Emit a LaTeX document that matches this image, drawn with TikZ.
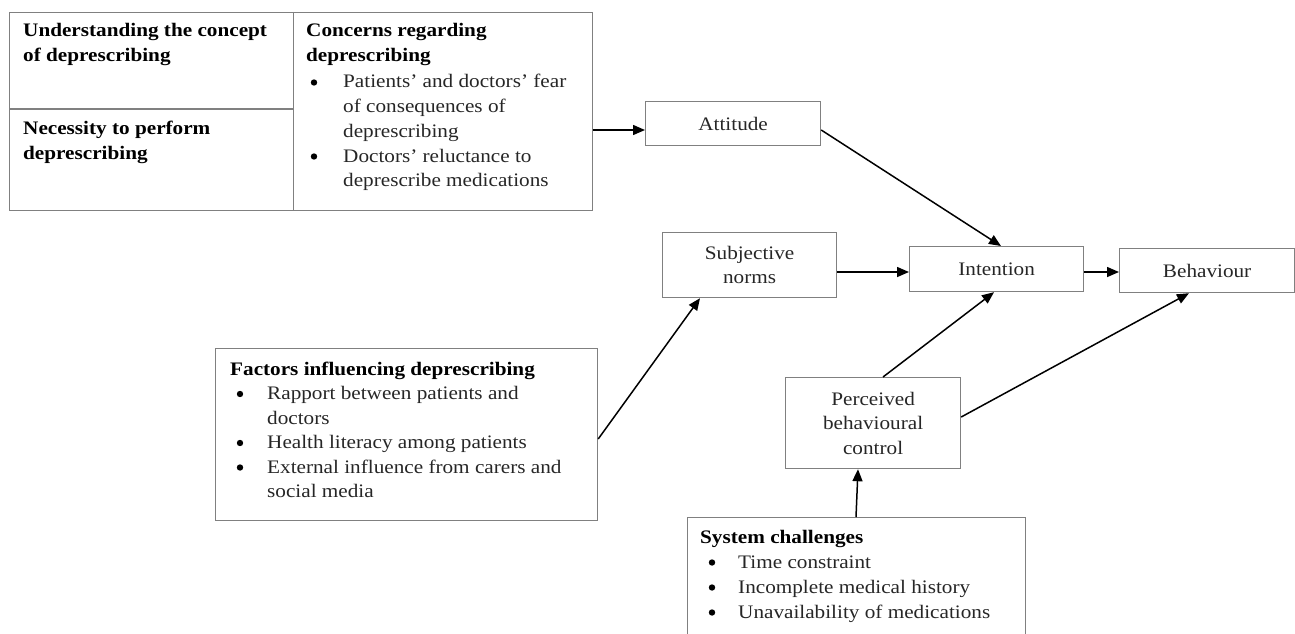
\documentclass[tikz,border=0pt]{standalone}
\usepackage{fontspec}
\setmainfont{Liberation Serif}[FakeStretch=1.11]
\usetikzlibrary{arrows.meta}
\newcommand\fsz{\fontsize{19.1}{24.5}\selectfont}
\tikzset{
  box/.style={draw=black!50, line width=1.2pt, inner sep=0pt, anchor=north west},
  divline/.style={draw=black!50, line width=1.2pt},
  txt/.style={inner sep=0pt, font=\fsz, text=black!85, anchor=base west},
  hd/.style={inner sep=0pt, font=\fsz\bfseries, text=black, anchor=base west},
  bul/.style={circle, fill=black, inner sep=0pt, minimum size=6.4pt},
  ctr/.style={inner sep=0pt, font=\fsz, text=black!85, align=center},
  arr/.style={line width=1.5pt, -{Triangle[length=12pt,width=10pt]}},
}
\begin{document}
\begin{tikzpicture}[x=1pt,y=-1pt]
\useasboundingbox (0,0) rectangle (1295,634);

% ---------- top left composite box ----------
\node[box, minimum width=583pt, minimum height=198pt] (top) at (9,12) {};
\draw[divline] (293.5,12) -- (293.5,210);
\draw[divline] (9,109) -- (293.5,109);
\node[hd] (u1) at (23,37) {Understanding the concept};
\node[hd] (u2) at (23,61.5) {of deprescribing};
\node[hd] (n1) at (23,134.5) {Necessity to perform};
\node[hd] (n2) at (23,159) {deprescribing};
\node[hd] (c1) at (306,37) {Concerns regarding};
\node[hd] (c2) at (306,62) {deprescribing};
\node[bul] (cb1) at (314,82.5) {};
\node[txt] (c3) at (343,88) {Patients’ and doctors’ fear};
\node[txt] (c4) at (343,112.5) {of consequences of};
\node[txt] (c5) at (343,137) {deprescribing};
\node[bul] (cb2) at (314,156.5) {};
\node[txt] (c6) at (343,162) {Doctors’ reluctance to};
\node[txt] (c7) at (343,186.5) {deprescribe medications};

% ---------- TPB boxes ----------
\node[box, minimum width=175pt, minimum height=44pt] (att) at (645,101) {};
\node[ctr] (attT) at (att.center) {Attitude};
\node[box, minimum width=174pt, minimum height=65pt] (sub) at (662,232) {};
\node[ctr] (subT) at (sub.center) {Subjective\\norms};
\node[box, minimum width=174pt, minimum height=45pt] (int) at (909,246) {};
\node[ctr] (intT) at (int.center) {Intention};
\node[box, minimum width=175pt, minimum height=44pt] (beh) at (1119,248) {};
\node[ctr] (behT) at (beh.center) {Behaviour};
\node[box, minimum width=175pt, minimum height=91pt] (pbc) at (785,377) {};
\node[ctr] (pbcT) at (pbc.center) {Perceived\\behavioural\\control};

% ---------- factors box ----------
\node[box, minimum width=382pt, minimum height=172pt] (fac) at (215,348) {};
\node[hd] (f0) at (230,375) {Factors influencing deprescribing};
\node[bul] (fb1) at (240,394) {};
\node[txt] (f1) at (267,399.5) {Rapport between patients and};
\node[txt] (f2) at (267,424) {doctors};
\node[bul] (fb2) at (240,443) {};
\node[txt] (f3) at (267,448.5) {Health literacy among patients};
\node[bul] (fb3) at (240,467.5) {};
\node[txt] (f4) at (267,473) {External influence from carers and};
\node[txt] (f5) at (267,497.5) {social media};

% ---------- system challenges box (cut off at bottom) ----------
\node[box, minimum width=338pt, minimum height=140pt] (sys) at (687,517) {};
\node[hd] (s0) at (700,543) {System challenges};
\node[bul] (sb1) at (712,562.5) {};
\node[txt] (s1) at (738,568) {Time constraint};
\node[bul] (sb2) at (712,587.5) {};
\node[txt] (s2) at (738,593) {Incomplete medical history};
\node[bul] (sb3) at (712,612.5) {};
\node[txt] (s3) at (738,618) {Unavailability of medications};

% ---------- connectors ----------
\draw[arr] (top.east |- 0,130) -- (att.west |- 0,130);
\draw[arr] (att.east |- 0,130) -- (int.north -| 1001,0);
\draw[arr] (sub.east |- 0,272) -- (int.west |- 0,272);
\draw[arr] (int.east |- 0,272) -- (beh.west |- 0,272);
\draw[arr] (fac.east |- 0,439) -- (sub.south -| 700,0);
\draw[arr] (pbc.north -| 883,0) -- (int.south -| 994,0);
\draw[arr] (pbc.east |- 0,417) -- (beh.south -| 1189,0);
\draw[arr] (sys.north -| 856,0) -- (pbc.south -| 858,0);
\end{tikzpicture}
\end{document}
